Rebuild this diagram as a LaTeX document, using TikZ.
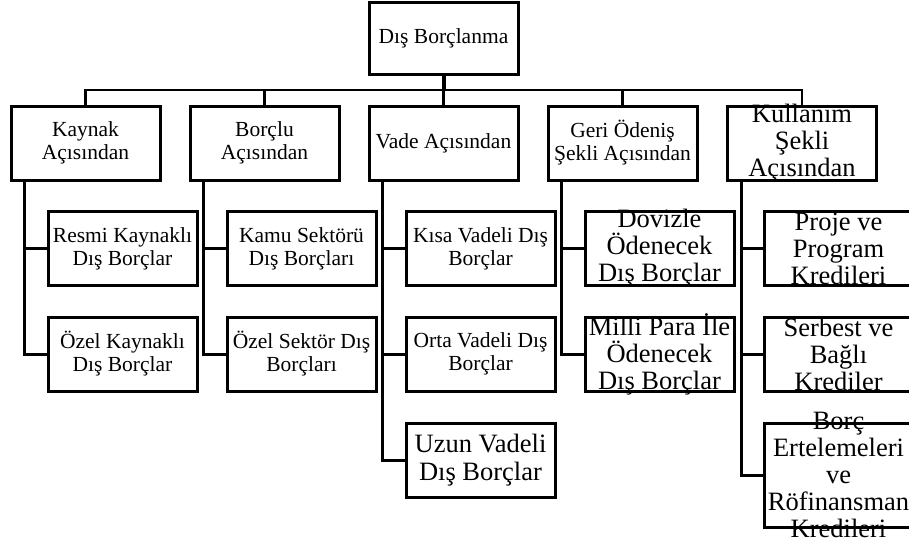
\documentclass[tikz,border=0pt]{standalone}
\usepackage{fontspec}
\setmainfont{Liberation Serif}

\begin{document}
\begin{tikzpicture}[x=1pt, y=-1pt,
  cell/.style={draw, line width=3pt, minimum width=149pt, minimum height=74pt, inner sep=0pt, align=center, font=\fontsize{21.5}{23}\selectfont},
  bigcell/.style={cell, font=\fontsize{26.5}{27.5}\selectfont},
  bigtext/.style={align=center, inner sep=0pt, font=\fontsize{26.5}{27}\selectfont},
  link/.style={line width=3pt},
]
  % Frame
  \useasboundingbox (0,0) rectangle (909,544);
  \clip (0,0) rectangle (909,544);
  \fill[white] (0,0) rectangle (909,544);

  % Root
  \node[cell, minimum height=72pt] (root) at (443.5,38) {Dış Borçlanma};

  % Level 1
  \node[cell] (kay) at (85.5,143) {Kaynak\\Açısından};
  \node[cell] (bor) at (264.5,143) {Borçlu\\Açısından};
  \node[cell] (vad) at (443.5,143) {Vade Açısından};
  \node[cell] (ger) at (622.5,143) {Geri Ödeniş\\Şekli Açısından};
  \node[cell, label={[bigtext]center:{Kullanım\\Şekli\\Açısından}}] (kul) at (802,143) {};

  % Level 2
  \node[cell] (kay1) at (122.5,248.5) {Resmi Kaynaklı\\Dış Borçlar};
  \node[cell] (kay2) at (122.5,354) {Özel Kaynaklı\\Dış Borçlar};
  \node[cell] (bor1) at (301.5,248.5) {Kamu Sektörü\\Dış Borçları};
  \node[cell] (bor2) at (301.5,354) {Özel Sektör Dış\\Borçları};
  \node[cell] (vad1) at (480.5,248.5) {Kısa Vadeli Dış\\Borçlar};
  \node[cell] (vad2) at (480.5,354) {Orta Vadeli Dış\\Borçlar};
  \node[bigcell] (vad3) at (480.5,460) {Uzun Vadeli\\Dış Borçlar};
  \node[cell, label={[bigtext]center:{Dövizle\\Ödenecek\\Dış Borçlar}}] (ger1) at (659.5,248.5) {};
  \node[cell, label={[bigtext]center:{Milli Para İle\\Ödenecek\\Dış Borçlar}}] (ger2) at (659.5,354) {};
  \node[cell, label={[bigtext]center:{Proje ve\\Program\\Kredileri}}] (kul1) at (838.5,248.5) {};
  \node[cell, label={[bigtext]center:{Serbest ve\\Bağlı\\Krediler}}] (kul2) at (838.5,354) {};
  \node[cell, minimum height=104pt, label={[bigtext]center:{Borç\\Ertelemeleri\\ve\\Röfinansman\\Kredileri}}] (kul3) at (838.5,475) {};

  % Connectors
  \coordinate (bus) at (443.5,90);
  \draw[line width=4pt] (root.south) -- (bus);
  \foreach \n in {kay,bor,vad,ger,kul}
    \draw[line width=2.4pt] (bus) -| (\n.north);
  \foreach \p/\c in {kay/kay1, kay/kay2, bor/bor1, bor/bor2, vad/vad1, vad/vad2, vad/vad3, ger/ger1, ger/ger2, kul/kul1, kul/kul2, kul/kul3}
    \draw[link] ([xshift=15pt]\p.south west) |- (\c.west);
\end{tikzpicture}
\end{document}
